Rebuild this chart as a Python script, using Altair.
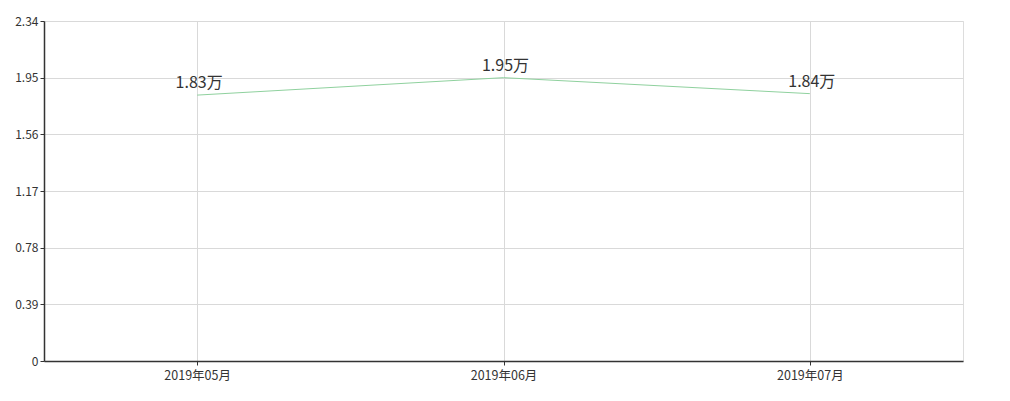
import altair as alt
import pandas as pd

months = ["2019年05月", "2019年06月", "2019年07月"]
values = [1.83, 1.95, 1.84]
labels = ["1.83万", "1.95万", "1.84万"]
y_ticks = [0, 0.39, 0.78, 1.17, 1.56, 1.95, 2.34]

df = pd.DataFrame({"month": months, "value": values, "label": labels})

FONT = "Noto Sans CJK SC"

x = alt.X("month:N", sort=months, title=None,
          scale=alt.Scale(type="point", padding=0.5),
          axis=alt.Axis(labelAngle=0, grid=True, gridColor="#d9d9d9", gridWidth=1,
                        domainColor="#333333", domainWidth=1.5, tickColor="#333333",
                        tickSize=4, labelFontSize=12.5, labelColor="#333333",
                        labelFont=FONT, labelPadding=4))
y = alt.Y("value:Q", title=None,
          scale=alt.Scale(domain=[0, 2.34], nice=False, zero=True),
          axis=alt.Axis(values=y_ticks, format=".2~f", grid=True, gridColor="#d9d9d9",
                        gridWidth=1, domainColor="#333333", domainWidth=1.5,
                        tickColor="#333333", tickSize=4, labelFontSize=12,
                        labelColor="#333333", labelFont=FONT, labelPadding=2))

base = alt.Chart(df)
line = base.mark_line(color="#8fd19e", strokeWidth=1).encode(x=x, y=y)
text = base.mark_text(dy=-12, dx=2, fontSize=16, color="#333333", font=FONT).encode(
    x=alt.X("month:N", sort=months), y="value:Q", text="label:N")

chart = (line + text).properties(
    width=919, height=340,
    autosize=alt.AutoSizeParams(type="none"),
    padding={"left": 36, "top": 13, "right": 30, "bottom": 30},
).configure_view(stroke=None).configure(background="white")

chart.save("out.html", embed_options={"renderer": "svg", "actions": False})
